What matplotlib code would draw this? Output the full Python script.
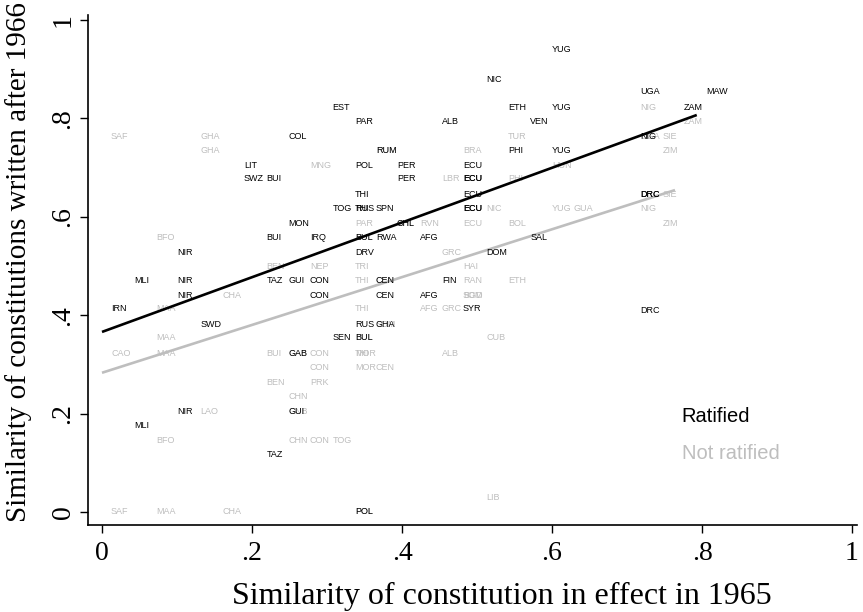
import matplotlib
matplotlib.use("Agg")
import matplotlib.pyplot as plt

# Ratified constitutions: country code, similarity in 1965 (x), similarity after 1966 (y)
rat_names = ["YUG", "NIC", "UGA", "MAW", "EST", "ETH", "YUG", "ZAM", "PAR", "ALB", "VEN",
             "COL", "NIG", "RUM", "PHI", "YUG", "LIT", "POL", "PER", "ECU",
             "SWZ", "BUI", "PER", "ECU", "ECU", "THI", "ECU", "DRC", "DRC",
             "TOG", "RUS", "THI", "SPN", "ECU", "ECU", "MON", "CHL",
             "BUI", "IRQ", "BUL", "RWA", "AFG", "SAL", "NIR", "DRV", "DOM",
             "MLI", "NIR", "TAZ", "GUI", "CON", "CEN", "FIN",
             "NIR", "CON", "CEN", "AFG", "IRN", "SYR", "DRC",
             "SWD", "RUS", "GHA", "SEN", "BUL", "GAB", "NIR", "GUI", "MLI", "TAZ", "POL"]
rat_x = [0.588, 0.500, 0.705, 0.793, 0.295, 0.529, 0.588, 0.764, 0.325, 0.441, 0.559,
         0.236, 0.705, 0.353, 0.529, 0.588, 0.177, 0.325, 0.381, 0.469,
         0.177, 0.207, 0.381, 0.469, 0.469, 0.325, 0.469, 0.705, 0.705,
         0.295, 0.325, 0.325, 0.353, 0.469, 0.469, 0.236, 0.381,
         0.207, 0.265, 0.325, 0.353, 0.412, 0.559, 0.088, 0.325, 0.500,
         0.031, 0.088, 0.207, 0.236, 0.265, 0.353, 0.441,
         0.088, 0.265, 0.353, 0.412, 0.000, 0.469, 0.705,
         0.119, 0.325, 0.353, 0.295, 0.325, 0.236, 0.088, 0.236, 0.031, 0.207, 0.325]
rat_y = [0.941, 0.880, 0.854, 0.854, 0.823, 0.823, 0.823, 0.823, 0.793, 0.793, 0.793,
         0.764, 0.764, 0.734, 0.734, 0.734, 0.705, 0.705, 0.705, 0.705,
         0.677, 0.677, 0.677, 0.677, 0.677, 0.646, 0.646, 0.646, 0.646,
         0.616, 0.616, 0.616, 0.616, 0.616, 0.616, 0.587, 0.587,
         0.557, 0.557, 0.557, 0.557, 0.557, 0.557, 0.528, 0.528, 0.528,
         0.470, 0.470, 0.470, 0.470, 0.470, 0.470, 0.470,
         0.441, 0.441, 0.441, 0.441, 0.413, 0.413, 0.410,
         0.382, 0.382, 0.382, 0.354, 0.354, 0.323, 0.205, 0.205, 0.175, 0.116, 0.000]

# Not ratified
nr_names = ["NIG", "ZAM", "SAF", "GHA", "TUR", "UGA", "SIE", "GHA", "RUM", "BRA", "ZIM",
            "MNG", "HUN", "LBR", "PHI", "SIE", "NIC", "YUG", "GUA", "NIG",
            "PAR", "CHL", "RVN", "ECU", "BOL", "ZIM", "BFO", "BUL", "GRC",
            "BEN", "NEP", "TRI", "HAI", "THI", "CEN", "RAN", "ETH",
            "CHA", "SOM", "BGD", "MAA", "THI", "AFG", "GRC", "SOM",
            "MAA", "BUL", "CUB", "CAO", "MAA", "BUI", "GAB", "CON", "THI", "MOR", "ALB",
            "CON", "MOR", "CEN", "BEN", "PRK", "CHN", "GNB", "LAO",
            "BFO", "CHN", "CON", "TOG", "LIB", "SAF", "MAA", "CHA", "POL"]
nr_x = [0.705, 0.764, 0.000, 0.119, 0.529, 0.705, 0.735, 0.119, 0.353, 0.469, 0.735,
        0.265, 0.588, 0.441, 0.529, 0.735, 0.500, 0.588, 0.617, 0.705,
        0.325, 0.381, 0.412, 0.469, 0.529, 0.735, 0.060, 0.325, 0.441,
        0.207, 0.265, 0.325, 0.469, 0.325, 0.353, 0.469, 0.529,
        0.148, 0.469, 0.469, 0.060, 0.325, 0.412, 0.441, 0.353,
        0.060, 0.325, 0.500, 0.000, 0.060, 0.207, 0.236, 0.265, 0.325, 0.325, 0.441,
        0.265, 0.325, 0.353, 0.207, 0.265, 0.236, 0.236, 0.119,
        0.060, 0.236, 0.265, 0.295, 0.500, 0.000, 0.060, 0.148, 0.325]
nr_y = [0.823, 0.793, 0.764, 0.764, 0.764, 0.764, 0.764, 0.734, 0.734, 0.734, 0.734,
        0.705, 0.705, 0.677, 0.677, 0.646, 0.616, 0.616, 0.616, 0.616,
        0.587, 0.587, 0.587, 0.587, 0.587, 0.587, 0.557, 0.557, 0.528,
        0.498, 0.498, 0.498, 0.498, 0.470, 0.470, 0.470, 0.470,
        0.441, 0.441, 0.441, 0.413, 0.413, 0.413, 0.413, 0.382,
        0.354, 0.354, 0.354, 0.323, 0.323, 0.323, 0.323, 0.323, 0.323, 0.323, 0.323,
        0.293, 0.293, 0.293, 0.264, 0.264, 0.234, 0.205, 0.205,
        0.146, 0.146, 0.146, 0.146, 0.030, 0.000, 0.000, 0.000, 0.000]

# fitted lines (intercept, slope)
rat_fit = (0.366, 0.556)
nr_fit = (0.283, 0.486)

ticks = [0, 0.2, 0.4, 0.6, 0.8, 1]
tick_labels = ["0", ".2", ".4", ".6", ".8", "1"]

GREY = "#bebebe"
serif = "Liberation Serif"
sans = "Liberation Sans"

fig = plt.figure(figsize=(8.63, 6.12), dpi=100)
ax = fig.add_axes([88 / 863, (612 - 524.5) / 612, (857 - 88) / 863, (524.5 - 15) / 612])

for names, xs, ys, col in [(nr_names, nr_x, nr_y, GREY), (rat_names, rat_x, rat_y, "black")]:
    for n, x, y in zip(names, xs, ys):
        ax.annotate(n, (x, y), xytext=(6.5, 0), textcoords="offset points",
                    ha="left", va="center", fontsize=6.5, family=sans, color=col)

for fit, xs, col, z in [(nr_fit, nr_x, GREY, 2), (rat_fit, rat_x, "black", 3)]:
    x0, x1 = min(xs), max(xs)
    ax.plot([x0, x1], [fit[0] + fit[1] * x0, fit[0] + fit[1] * x1],
            color=col, lw=1.9, zorder=z, solid_capstyle="butt")

ax.text(0.773, 0.195, "Ratified", fontsize=14.5, family=sans, color="black", va="center")
ax.text(0.773, 0.118, "Not ratified", fontsize=14.5, family=sans, color=GREY, va="center")

ax.set_xlim((88 - 102) / 750, (857 - 102) / 750)
ax.set_ylim((512 - 524.5) / 492, (512 - 15) / 492)
ax.set_xticks(ticks)
ax.set_xticklabels(tick_labels, family=serif, fontsize=20)
ax.set_yticks(ticks)
ax.set_yticklabels(tick_labels, family=serif, fontsize=20, rotation=90, va="center")
ax.tick_params(direction="out", length=6, width=1, pad=3)
ax.tick_params(axis="x", pad=6)
for s in ["top", "right"]:
    ax.spines[s].set_visible(False)
for s in ["left", "bottom"]:
    ax.spines[s].set_linewidth(1.2)

ax.set_xlabel("Similarity of constitution in effect in 1965", family=serif, fontsize=23, va="center")
ax.xaxis.set_label_coords(0.538, -0.142)
ax.set_ylabel("Similarity of constitutions written after 1966", family=serif, fontsize=21, va="center")
ax.yaxis.set_label_coords(-0.091, 0.515)

fig.savefig("out.png", dpi=100)
